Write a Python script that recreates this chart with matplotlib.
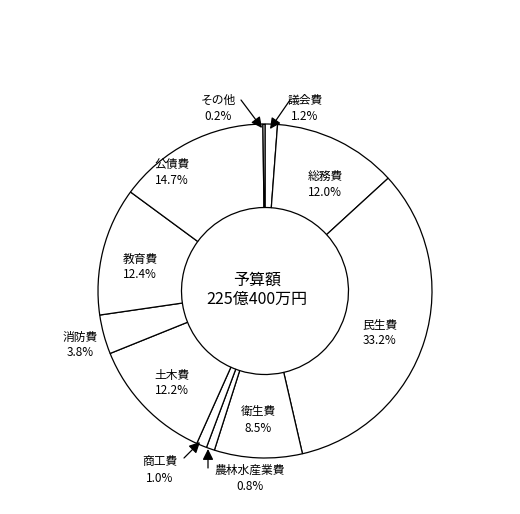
import matplotlib.pyplot as plt

plt.rcParams['font.family'] = ['Noto Sans CJK JP', 'DejaVu Sans']

# 予算の内訳（％）
categories = ['議会費', '総務費', '民生費', '衛生費', '農林水産業費', '商工費',
              '土木費', '消防費', '教育費', '公債費', 'その他']
shares = [1.2, 12.0, 33.2, 8.5, 0.8, 1.0, 12.2, 3.8, 12.4, 14.7, 0.2]
center_lines = ['予算額', '225億400万円']

# 画像座標 -> データ座標
W, H = 520, 514
CX, CY, R = 265, 291, 167


def px(x, y):
    return (x - CX) / R, (CY - y) / R


fig = plt.figure(figsize=(W / 100, H / 100), dpi=100)
ax = fig.add_axes([0, 0, 1, 1])

ax.pie(
    shares,
    startangle=90,
    counterclock=False,
    radius=1.0,
    colors=['white'] * len(shares),
    wedgeprops=dict(width=0.5, edgecolor='black', linewidth=0.9),
)

ax.set_xlim(-CX / R, (W - CX) / R)
ax.set_ylim((CY - H) / R, CY / R)
ax.set_aspect('equal')
ax.axis('off')

# ラベルの位置（画像上のピクセル）
label_pos = {
    '総務費': (325, 184),
    '民生費': (380, 333),
    '衛生費': (258, 420),
    '土木費': (172, 383),
    '消防費': (80, 345),
    '教育費': (140, 267),
    '公債費': (172, 172),
}
for name, share in zip(categories, shares):
    if name in label_pos:
        x, y = px(*label_pos[name])
        ax.text(x, y, f'{name}\n{share:.1f}%', ha='center', va='center',
                fontsize=8.5, linespacing=1.3)

# 小さい項目は矢印付き
arrow_labels = {
    'その他': ((218, 108), (241, 100), (262, 128)),
    '議会費': ((305, 108), (290, 100), (270, 129)),
    '商工費': ((160, 470), (184, 458), (200, 442)),
    '農林水産業費': ((250, 478), (208, 468), (208, 449)),
}
for name, share in zip(categories, shares):
    if name in arrow_labels:
        (tx, ty), (ax0, ay0), (ax1, ay1) = arrow_labels[name]
        x, y = px(tx, ty)
        ax.text(x, y, f'{name}\n{share:.1f}%', ha='center', va='center',
                fontsize=8.5, linespacing=1.3)
        ax.annotate('', xy=px(ax1, ay1), xytext=px(ax0, ay0),
                    arrowprops=dict(arrowstyle='-|>', color='black', lw=0.9,
                                    mutation_scale=16, shrinkA=0, shrinkB=0))

x, y = px(257, 290)
ax.text(x, y, '\n'.join(center_lines), ha='center', va='center',
        fontsize=11.5, linespacing=1.15)

fig.savefig('out.png', dpi=100, facecolor='white')
